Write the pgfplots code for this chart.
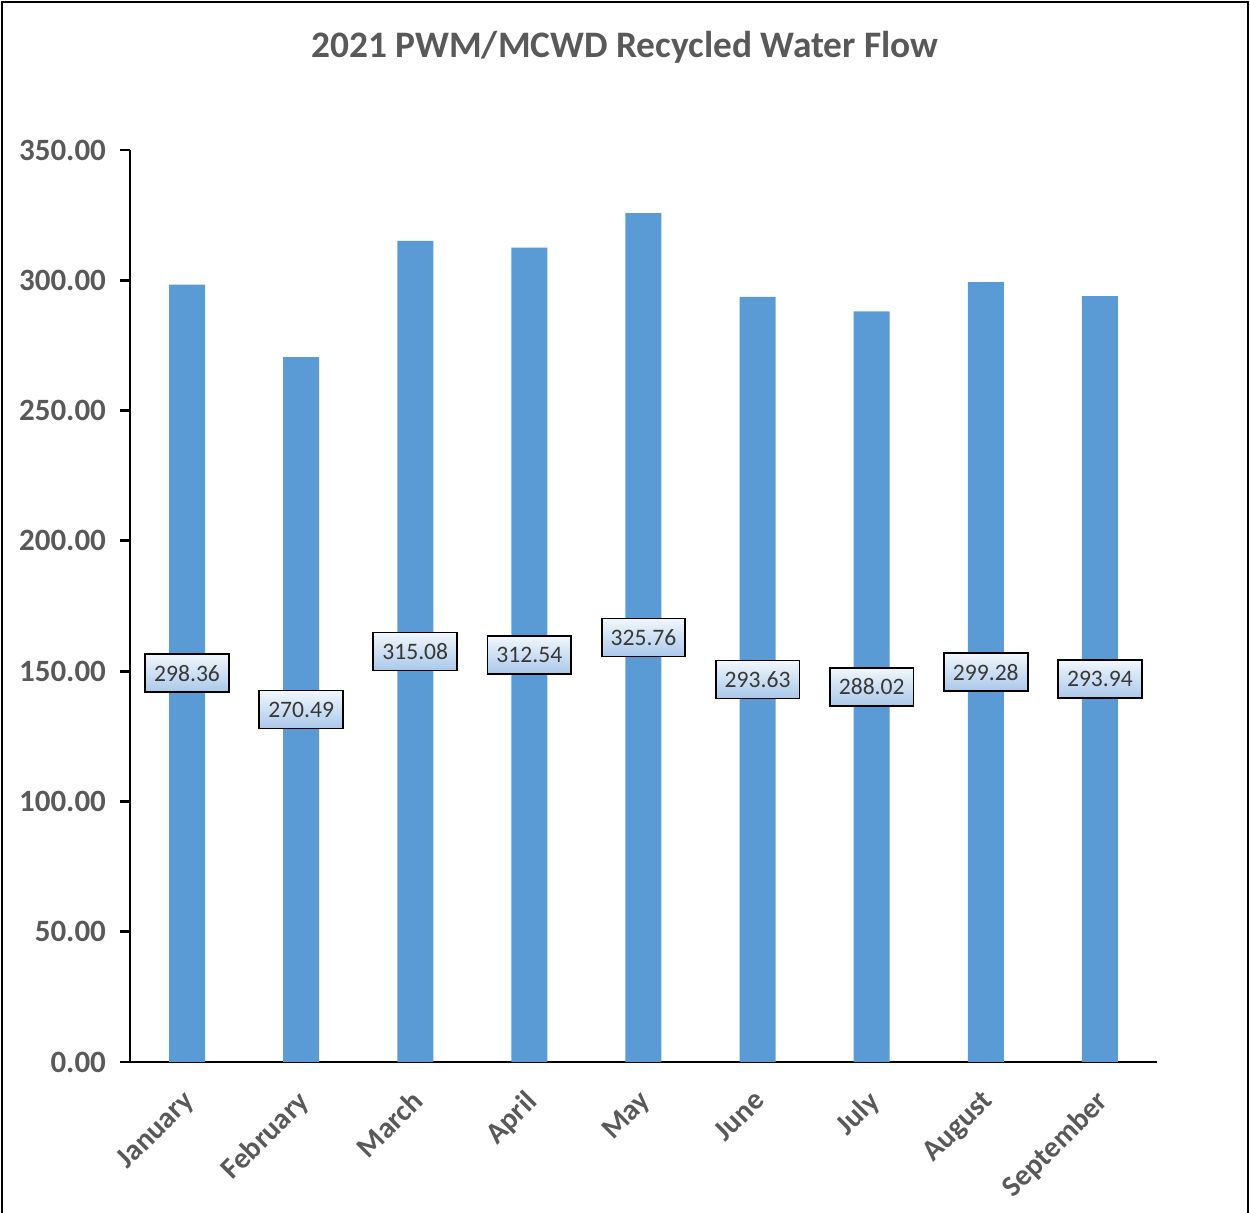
\documentclass[border=0pt]{standalone}
\usepackage{pgfplots}
\pgfplotsset{compat=1.18}
\usepackage{fontspec}
\setmainfont{Carlito}
\definecolor{barblue}{HTML}{5B9BD5}
\definecolor{txtgray}{HTML}{595959}
\definecolor{lblue}{HTML}{A9C8EA}
\definecolor{lwhite}{HTML}{F2F7FC}
\begin{document}
\begin{tikzpicture}[x=1pt,y=1pt]
\useasboundingbox (0pt,0pt) rectangle (625pt,-606.5pt);
\draw[line width=1.1pt] (1pt,-606.5pt) -- (1pt,-1pt) -- (624pt,-1pt) -- (624pt,-606.5pt);
\node[font=\bfseries\fontsize{18.7}{22}\selectfont, text=txtgray] at (312.5pt,-23.5pt) {2021 PWM/MCWD Recycled Water Flow};
\begin{axis}[
  at={(65pt,-531pt)}, anchor=south west,
  scale only axis, width=513.5pt, height=456pt,
  axis lines*=left,
  axis line style={line width=1.4pt, black},
  xmin=-0.5, xmax=8.5, ymin=0, ymax=350,
  xtick=data,
  xticklabels={January,February,March,April,May,June,July,August,September},
  x tick label style={rotate=45, anchor=north east, font=\bfseries\fontsize{14.8}{17}\selectfont, text=txtgray, inner sep=2pt, xshift=-5.6pt, yshift=-1.8pt},
  x tick style={draw=none},
  ytick={0,50,...,350},
  y tick style={line width=1.4pt, black},
  tick align=outside,
  major tick length=5pt,
  yticklabel style={font=\bfseries\fontsize{15.5}{18}\selectfont, text=txtgray, xshift=-3.5pt, /pgf/number format/fixed, /pgf/number format/fixed zerofill, /pgf/number format/precision=2, /pgf/number format/assume math mode=true},
  ybar, bar width=18pt,
  clip=false,
  nodes near coords,
  visualization depends on=y \as \rawy,
  every node near coord/.append style={
    /pgf/number format/fixed, /pgf/number format/fixed zerofill, /pgf/number format/precision=2, /pgf/number format/assume math mode=true,
    anchor=center,
    shift={(axis direction cs:0,-\rawy/2)},
    font=\fontsize{11.8}{14}\selectfont, text=black!78,
    draw=black, line width=0.9pt, top color=lwhite, bottom color=lblue,
    inner xsep=4.5pt, inner ysep=3pt, minimum height=19pt},
]
\addplot[fill=barblue, draw=none] coordinates {
(0,298.36) (1,270.49) (2,315.08) (3,312.54) (4,325.76) (5,293.63) (6,288.02) (7,299.28) (8,293.94)};
\end{axis}
\end{tikzpicture}
\end{document}
